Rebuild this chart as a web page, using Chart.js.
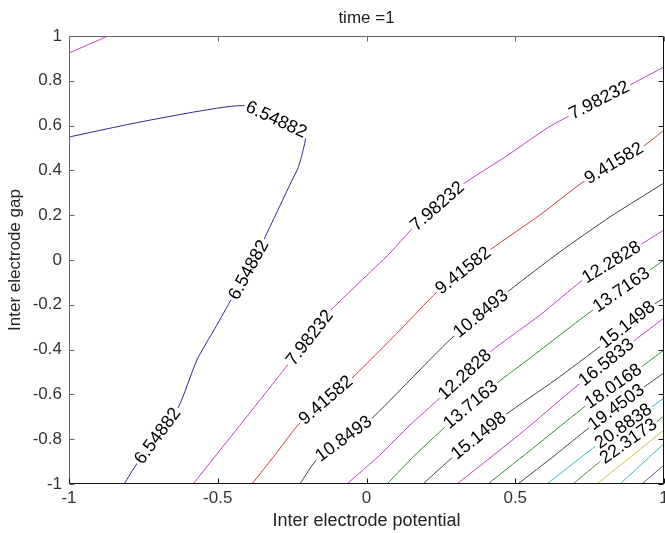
<!DOCTYPE html>
<html><head><meta charset="utf-8">
<script src="https://cdn.jsdelivr.net/npm/chart.js@4.4.1/dist/chart.umd.min.js"></script>
<style>html,body{margin:0;padding:0;background:#fff;}#wrap{width:665px;height:533px;position:relative;}</style>
</head><body><div id="wrap"><canvas id="c"></canvas></div>
<script>
// ---- data ----
const xTickValues = [-1, -0.5, 0, 0.5, 1];
const yTickValues = [1, 0.8, 0.6, 0.4, 0.2, 0, -0.2, -0.4, -0.6, -0.8, -1];
const titleText = 'time =1';
const xLabel = 'Inter electrode potential';
const yLabel = 'Inter electrode gap';

// contour levels
const levels = [6.54882, 7.98232, 9.41582, 10.8493, 12.2828, 13.7163, 15.1498, 16.5833, 18.0168, 19.4503, 20.8838, 22.3173, 23.7508, 25.1843, 26.6178];

// contour polylines [x, y]
const c6_54882 = [[-1,0.549],[-0.795,0.607],[-0.560,0.665],[-0.402,0.6875],[-0.207,0.567],[-0.213,0.491],[-0.230,0.411],[-0.250,0.357],[-0.301,0.214],[-0.351,0.076],[-0.452,-0.170],[-0.509,-0.304],[-0.570,-0.446],[-0.634,-0.661],[-0.768,-0.902],[-0.815,-1]];
const c7_98232a = [[-1,0.924],[-0.869,1]];
const c7_98232 = [[-0.583,-1],[-0.425,-0.737],[-0.257,-0.455],[-0.129,-0.237],[-0.022,-0.098],[0.079,0.031],[0.156,0.143],[0.321,0.335],[0.466,0.460],[0.607,0.589],[0.674,0.638],[0.892,0.786],[1,0.862]];
const c9_41582 = [[-0.385,-1],[-0.308,-0.871],[-0.224,-0.728],[-0.049,-0.527],[0.113,-0.3125],[0.237,-0.143],[0.415,0.045],[0.583,0.201],[0.728,0.348],[0.936,0.513],[1,0.580]];
const c10_8493 = [[-0.224,-1],[-0.163,-0.884],[0.012,-0.714],[0.146,-0.536],[0.287,-0.348],[0.482,-0.134],[0.650,0.036],[0.818,0.192],[1,0.344]];
const c12_2828 = [[-0.066,-1],[0.045,-0.871],[0.146,-0.737],[0.247,-0.616],[0.415,-0.411],[0.583,-0.246],[0.728,-0.089],[0.919,0.067],[1,0.134]];
const c13_7163 = [[0.069,-1],[0.163,-0.871],[0.264,-0.746],[0.439,-0.549],[0.550,-0.4375],[0.761,-0.223],[0.953,-0.045],[1,0]];
const c15_1498 = [[0.190,-1],[0.291,-0.879],[0.466,-0.692],[0.634,-0.536],[0.792,-0.379],[0.963,-0.201],[1,-0.170]];
const c16_5833 = [[0.304,-1],[0.516,-0.777],[0.711,-0.558],[0.903,-0.357],[1,-0.259]];
const c18_0168 = [[0.408,-1],[0.573,-0.826],[0.741,-0.647],[0.919,-0.482],[1,-0.402]];
const c19_4503 = [[0.509,-1],[0.634,-0.871],[0.751,-0.746],[0.929,-0.571],[1,-0.504]];
const c20_8838 = [[0.607,-1],[0.775,-0.826],[0.953,-0.661],[1,-0.616]];
const c22_3173 = [[0.694,-1],[0.792,-0.893],[0.970,-0.728],[1,-0.696]];
const c23_7508 = [[0.775,-1],[1,-0.759]];
const c25_1843 = [[0.852,-1],[1,-0.82]];
const c26_6178 = [[0.926,-1],[1,-0.915]];

// inline label anchors [level, x, y]
const labelSpots = [
  [6.54882,-0.304,0.625],[6.54882,-0.395,-0.045],[6.54882,-0.701,-0.786],
  [7.98232,-0.190,-0.348],[7.98232,0.239,0.239],[7.98232,0.783,0.712],
  [9.41582,-0.136,-0.627],[9.41582,0.326,-0.049],[9.41582,0.832,0.431],
  [10.8493,-0.076,-0.799],[10.8493,0.385,-0.241],
  [12.2828,0.331,-0.513],[12.2828,0.824,-0.011],
  [13.7163,0.351,-0.647],[13.7163,0.857,-0.134],
  [15.1498,0.378,-0.786],[15.1498,0.877,-0.290],
  [16.5833,0.807,-0.458],
  [18.0168,0.830,-0.565],
  [19.4503,0.840,-0.658],
  [20.8838,0.864,-0.743],
  [22.3173,0.881,-0.810]
];

// ---- styling ----
const contours = [
  {level: levels[0], pts: c6_54882, color: '#2a2a90'},
  {level: levels[1], pts: c7_98232a, color: '#c040c0'},
  {level: levels[1], pts: c7_98232, color: '#c040c0'},
  {level: levels[2], pts: c9_41582, color: '#d03c3c'},
  {level: levels[3], pts: c10_8493, color: '#404040'},
  {level: levels[4], pts: c12_2828, color: '#c040c0'},
  {level: levels[5], pts: c13_7163, color: '#2f902f'},
  {level: levels[6], pts: c15_1498, color: '#404040'},
  {level: levels[7], pts: c16_5833, color: '#c040c0'},
  {level: levels[8], pts: c18_0168, color: '#2f902f'},
  {level: levels[9], pts: c19_4503, color: '#404040'},
  {level: levels[10], pts: c20_8838, color: '#30bcd0'},
  {level: levels[11], pts: c22_3173, color: '#4a8a3a'},
  {level: levels[12], pts: c23_7508, color: '#d4c23a'},
  {level: levels[13], pts: c25_1843, color: '#30bcd0'},
  {level: levels[14], pts: c26_6178, color: '#5050a8'}
];

const FONT = '"Liberation Sans", Arial, Helvetica, sans-serif';

const datasets = contours.map(c => ({
  data: c.pts.map(p => ({x: p[0], y: p[1]})),
  showLine: true,
  borderColor: c.color,
  borderWidth: 1,
  pointRadius: 0,
  pointHoverRadius: 0,
  tension: 0.2,
  fill: false
}));

const labelPlugin = {
  id: 'contourLabels',
  afterDatasetsDraw(chart) {
    const {ctx, scales: {x, y}} = chart;
    ctx.save();
    ctx.font = '18px ' + FONT;
    ctx.textAlign = 'center';
    ctx.textBaseline = 'middle';
    labelSpots.forEach(([lvl, lx, ly]) => {
      const px = x.getPixelForValue(lx), py = y.getPixelForValue(ly);
      let best = null, bestD = Infinity;
      contours.filter(c => c.level === lvl).forEach(c => {
        for (let i = 0; i < c.pts.length - 1; i++) {
          const ax = x.getPixelForValue(c.pts[i][0]), ay = y.getPixelForValue(c.pts[i][1]);
          const bx = x.getPixelForValue(c.pts[i+1][0]), by = y.getPixelForValue(c.pts[i+1][1]);
          const dx = bx - ax, dy = by - ay;
          const L = dx*dx + dy*dy;
          let t = L ? ((px-ax)*dx + (py-ay)*dy) / L : 0;
          t = Math.max(0, Math.min(1, t));
          const qx = ax + t*dx, qy = ay + t*dy;
          const d = (qx-px)*(qx-px) + (qy-py)*(qy-py);
          if (d < bestD) { bestD = d; best = Math.atan2(dy, dx); }
        }
      });
      let a = best || 0;
      if (a > Math.PI/2) a -= Math.PI;
      if (a < -Math.PI/2) a += Math.PI;
      const txt = lvl.toPrecision(6);
      const w = ctx.measureText(txt).width;
      ctx.save();
      ctx.translate(px, py);
      ctx.rotate(a);
      ctx.fillStyle = '#ffffff';
      ctx.fillRect(-w/2 - 2, -4, w + 4, 8);
      ctx.fillStyle = '#000000';
      ctx.fillText(txt, 0, 0);
      ctx.restore();
    });
    ctx.restore();
  }
};

const boxPlugin = {
  id: 'matlabBox',
  afterDraw(chart) {
    const {ctx, chartArea: ca, scales: {x, y}} = chart;
    const L = Math.round(ca.left) + 0.5, R = Math.round(ca.right) - 0.5;
    const T = Math.round(ca.top) + 0.5, B = Math.round(ca.bottom) - 0.5;
    const tk = 5;
    ctx.save();
    ctx.lineWidth = 1;
    ctx.strokeStyle = '#666666';
    ctx.beginPath();
    ctx.moveTo(L, B); ctx.lineTo(L, T); ctx.lineTo(R, T);
    xTickValues.forEach(v => { const p = Math.round(x.getPixelForValue(v)) + 0.5; ctx.moveTo(p, T); ctx.lineTo(p, T + tk); });
    yTickValues.forEach(v => { const p = Math.round(y.getPixelForValue(v)) + 0.5; ctx.moveTo(L, p); ctx.lineTo(L + tk, p); });
    ctx.stroke();
    ctx.strokeStyle = '#111111';
    ctx.beginPath();
    ctx.moveTo(L, B); ctx.lineTo(R, B); ctx.lineTo(R, T);
    xTickValues.forEach(v => { const p = Math.round(x.getPixelForValue(v)) + 0.5; ctx.moveTo(p, B); ctx.lineTo(p, B - tk); });
    yTickValues.forEach(v => { const p = Math.round(y.getPixelForValue(v)) + 0.5; ctx.moveTo(R, p); ctx.lineTo(R - tk, p); });
    ctx.stroke();
    ctx.restore();
  }
};

const chart = new Chart(document.getElementById('c'), {
  type: 'scatter',
  data: { datasets },
  options: {
    responsive: true,
    maintainAspectRatio: false,
    animation: false,
    events: [],
    layout: { padding: { left: 0, right: 1, top: 0, bottom: 0 } },
    plugins: {
      legend: { display: false },
      tooltip: { enabled: false },
      title: {
        display: true, text: titleText, fullSize: false,
        color: '#222', font: { family: FONT, size: 17, weight: 'normal' },
        padding: { top: 8, bottom: 7.6 }
      }
    },
    scales: {
      x: {
        type: 'linear', min: -1, max: 1,
        afterBuildTicks: s => { s.ticks = xTickValues.map(v => ({value: v})); },
        afterFit: s => { s.height = 49; s.paddingLeft = 0; s.paddingRight = 0; },
        ticks: { color: '#333', font: { family: FONT, size: 17 }, padding: 4, maxRotation: 0, autoSkip: false, callback: v => String(v) },
        grid: { display: false, drawTicks: false },
        border: { display: false },
        title: { display: true, text: xLabel, color: '#222', font: { family: FONT, size: 18 }, padding: { top: 0, bottom: 1 } }
      },
      y: {
        type: 'linear', min: -1, max: 1,
        afterBuildTicks: s => { s.ticks = yTickValues.map(v => ({value: v})); },
        afterFit: s => { s.width = 69; s.paddingTop = 0; s.paddingBottom = 0; },
        ticks: { color: '#333', font: { family: FONT, size: 17 }, padding: 7, autoSkip: false, callback: v => String(v) },
        grid: { display: false, drawTicks: false },
        border: { display: false },
        title: { display: true, text: yLabel, color: '#222', font: { family: FONT, size: 17 }, padding: { top: 5, bottom: 0 } }
      }
    }
  },
  plugins: [labelPlugin, boxPlugin]
});
</script></body></html>
